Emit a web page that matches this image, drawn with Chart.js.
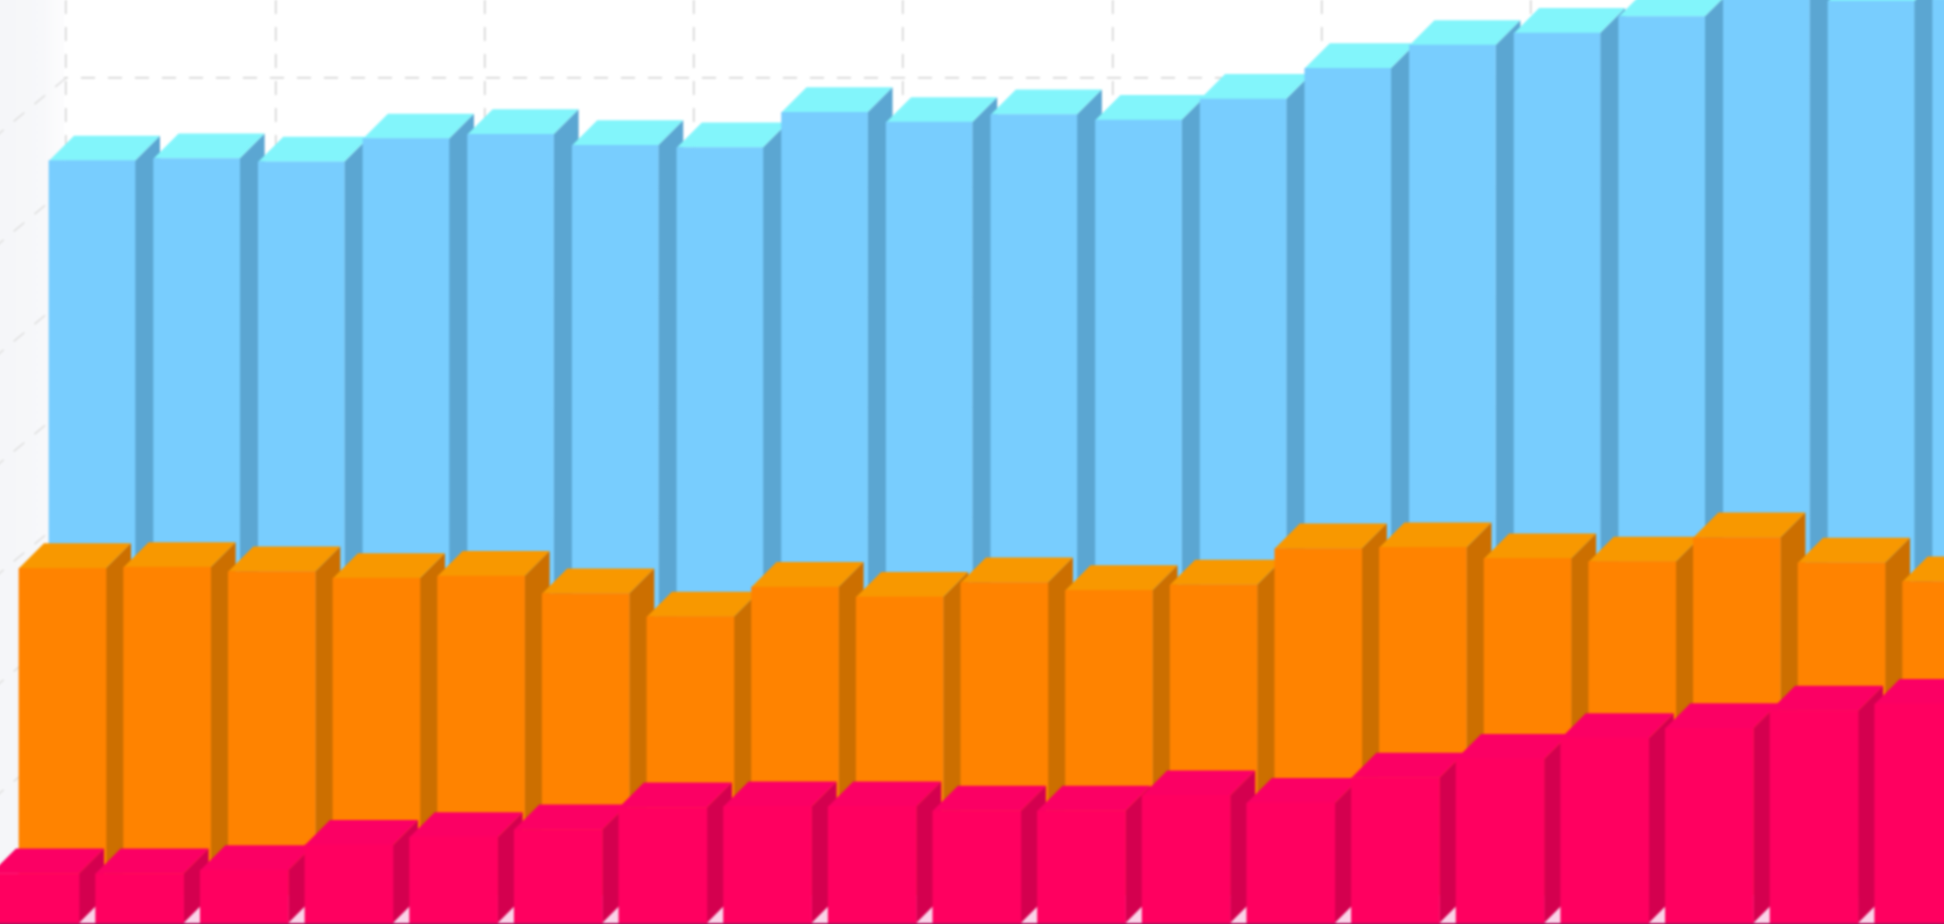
<!DOCTYPE html>
<html>
<head>
<meta charset="utf-8">
<title>3D bars</title>
<script src="https://cdn.jsdelivr.net/npm/chart.js@4"></script>
<style>
  html, body { margin: 0; padding: 0; background: #fff; overflow: hidden; }
  /* canvas is a bit bigger than the page so the blur has no soft rim */
  canvas { display: block; position: absolute; left: -4px; top: -4px; filter: blur(0.8px); }
</style>
</head>
<body>
<canvas id="chart" width="1952" height="932"></canvas>
<script>
const categories = [0, 1, 2, 3, 4, 5, 6, 7, 8, 9, 10, 11, 12, 13, 14, 15, 16, 17, 18];
const backSeries = [643, 645, 642, 663, 667, 657, 655, 687, 678, 685, 680, 699, 727, 748, 759, 774, 793, 788, 790];
const middleSeries = [297, 298, 294, 288, 290, 274, 253, 280, 271, 284, 277, 282, 315, 316, 306, 303, 325, 302, 285];
const frontSeries = [45, 45, 48, 71, 78, 85, 105, 106, 106, 102, 102, 116, 109, 132, 149, 168, 177, 193, 199];

const W = 1944, H = 924, PAD = 4;
const PITCH = 104.65;  // px per category
const UNIT = 1.1;      // px per value unit
const DEPTH = 25;      // bar depth, both ways
const WALL_X = 66;
const FLOOR = '#fbd2e8';

// one x/y scale pair per row, shifted so the row sits further back
function xRange(centerOfFirst) {
  const min = -centerOfFirst / PITCH;
  return { type: 'linear', display: false, offset: false, min: min, max: min + W / PITCH };
}
function yRange(base) {
  const min = -(H - base) / UNIT;
  return { type: 'linear', display: false, min: min, max: min + H / UNIT };
}
function row(label, values, xID, yID, width, front, side, top) {
  return {
    label: label,
    data: values.map((v, i) => ({ x: categories[i], y: v })),
    xAxisID: xID,
    yAxisID: yID,
    barThickness: width,
    backgroundColor: front,
    borderWidth: 0,
    sideColor: side,
    topColor: top,
    clip: false
  };
}
// the generator drops ticks close to a fractional min, so list the multiples here
function multiplesOf(step) {
  return scale => {
    scale.ticks = [];
    for (let v = Math.ceil(scale.min / step) * step; v <= scale.max; v += step) {
      scale.ticks.push({ value: v });
    }
  };
}

// sides and tops of the boxes, taken from the bar elements
const boxFaces = {
  id: 'boxFaces',
  beforeDatasetDraw(chart, args) {
    const ctx = chart.ctx;
    const ds = chart.data.datasets[args.index];
    ctx.save();
    args.meta.data.forEach(bar => {
      const { x, y, base, width } = bar.getProps(['x', 'y', 'base', 'width']);
      const l = x - width / 2, r = x + width / 2;
      ctx.fillStyle = ds.sideColor;
      ctx.beginPath();
      ctx.moveTo(r, y);
      ctx.lineTo(r + DEPTH, y - DEPTH);
      ctx.lineTo(r + DEPTH, base - DEPTH);
      ctx.lineTo(r, base);
      ctx.closePath();
      ctx.fill();
      ctx.fillStyle = ds.topColor;
      ctx.beginPath();
      ctx.moveTo(l, y);
      ctx.lineTo(l + DEPTH, y - DEPTH);
      ctx.lineTo(r + DEPTH, y - DEPTH);
      ctx.lineTo(r, y);
      ctx.closePath();
      ctx.fill();
    });
    ctx.restore();
  },
  // side wall goes over the ends of the back wall grid, floor under the bars
  beforeDatasetsDraw(chart) {
    const ctx = chart.ctx;
    const yWall = chart.scales.yWall;
    const wallRight = PAD + WALL_X;
    ctx.save();
    const wall = ctx.createLinearGradient(PAD, 0, wallRight, 0);
    wall.addColorStop(0, '#f5f6f9');
    wall.addColorStop(0.65, '#f7f8fa');
    wall.addColorStop(1, '#fdfdfe');
    ctx.fillStyle = wall;
    ctx.fillRect(0, 0, wallRight - 2, H + 2 * PAD);
    ctx.strokeStyle = '#dedede';
    ctx.lineWidth = 1.5;
    ctx.setLineDash([14, 13]);
    yWall.ticks.forEach(t => {
      const py = yWall.getPixelForValue(t.value);
      ctx.beginPath();
      ctx.moveTo(wallRight, py);
      ctx.lineTo(0, py + wallRight * 0.83);
      ctx.stroke();
    });
    ctx.setLineDash([]);
    ctx.fillStyle = FLOOR;
    ctx.fillRect(0, H - 40, W + 2 * PAD, 40 + 2 * PAD);
    ctx.restore();
  },
  afterDatasetsDraw(chart) {
    chart.ctx.fillStyle = '#a5145c';
    chart.ctx.fillRect(0, PAD + H - 1, W + 2 * PAD, 1 + PAD);
  }
};

new Chart(document.getElementById('chart'), {
  type: 'bar',
  plugins: [boxFaces],
  data: {
    labels: categories,
    datasets: [
      row('Front', frontSeries, 'xFront', 'yFront', 88, '#ff0060', '#d4004f', '#fb0064'),
      row('Middle', middleSeries, 'xMiddle', 'yMiddle', 87, '#ff8300', '#cc6f00', '#f89800'),
      row('Back', backSeries, 'xBack', 'yBack', 86, '#78cdfe', '#5ba6d2', '#82f5fb')
    ]
  },
  options: {
    responsive: false,
    animation: false,
    layout: { padding: PAD },
    datasets: { bar: { grouped: false } },
    plugins: { legend: { display: false }, tooltip: { enabled: false }, title: { display: false } },
    scales: {
      xWall: {
        type: 'linear',
        offset: false,
        min: -WALL_X / PITCH,
        max: -WALL_X / PITCH + W / PITCH,
        ticks: { display: false },
        afterBuildTicks: multiplesOf(2),
        border: { display: false, dash: [14, 13] },
        grid: { color: '#d2d2d2', lineWidth: 1.5, drawTicks: false, offset: false }
      },
      yWall: {
        type: 'linear',
        position: 'left',
        min: -(H - 848) / UNIT,
        max: -(H - 848) / UNIT + H / UNIT,
        ticks: { display: false },
        afterBuildTicks: multiplesOf(100),
        border: { display: false, dash: [14, 13] },
        grid: { color: '#d2d2d2', lineWidth: 1.5, drawTicks: false }
      },
      xFront: xRange(35),
      yFront: yRange(923),
      xMiddle: xRange(62.5),
      yMiddle: yRange(895),
      xBack: xRange(92),
      yBack: yRange(868)
    }
  }
});
</script>
</body>
</html>
